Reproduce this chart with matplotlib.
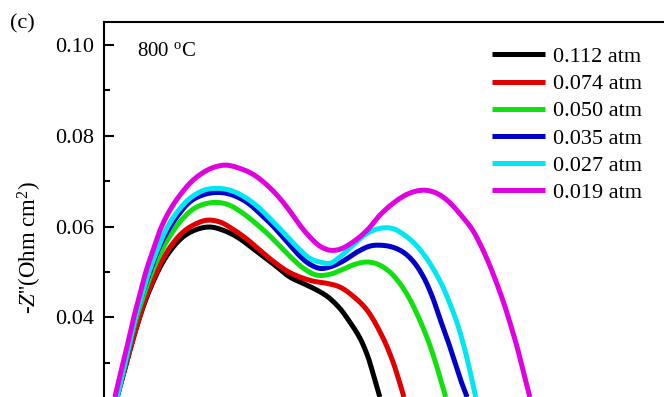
import matplotlib
matplotlib.use('Agg')
import numpy as np
import matplotlib.pyplot as plt
from matplotlib.ticker import FixedLocator, MultipleLocator, FormatStrFormatter

plt.rcParams['font.family'] = ['Liberation Serif', 'DejaVu Serif']
plt.rcParams['mathtext.fontset'] = 'custom'
plt.rcParams['mathtext.rm'] = 'Liberation Serif'
plt.rcParams['mathtext.it'] = 'Liberation Serif:italic'

labels = ['0.112 atm', '0.074 atm', '0.050 atm', '0.035 atm', '0.027 atm', '0.019 atm']
colors = ['#000000', '#e00000', '#10e010', '#0000c8', '#00e6f2', '#e000e0']
y_major_ticks = [0.04, 0.06, 0.08, 0.10]

# Z' (Ohm cm^2) and -Z'' (Ohm cm^2)
zr_0112 = [0.1029, 0.1042, 0.1057, 0.1073, 0.1090, 0.1108, 0.1128, 0.1150, 0.1176, 0.1205,
           0.1233, 0.1262, 0.1293, 0.1321, 0.1350, 0.1381, 0.1409, 0.1438, 0.1469, 0.1493,
           0.1519, 0.1541, 0.1563, 0.1581, 0.1594, 0.1607]
zi_0112 = [0.0225, 0.0273, 0.0328, 0.0383, 0.0434, 0.0478, 0.0519, 0.0552, 0.0579, 0.0594,
           0.0599, 0.0592, 0.0577, 0.0557, 0.0535, 0.0511, 0.0489, 0.0475, 0.0460, 0.0445,
           0.0420, 0.0390, 0.0355, 0.0313, 0.0269, 0.0225]

zr_0074 = [0.1029, 0.1042, 0.1057, 0.1073, 0.1090, 0.1108, 0.1128, 0.1150, 0.1174, 0.1200,
           0.1227, 0.1255, 0.1284, 0.1315, 0.1343, 0.1372, 0.1403, 0.1431, 0.1460, 0.1491,
           0.1519, 0.1548, 0.1579, 0.1614, 0.1636, 0.1649, 0.1660]
zi_0074 = [0.0225, 0.0273, 0.0328, 0.0383, 0.0438, 0.0482, 0.0526, 0.0561, 0.0588, 0.0605,
           0.0614, 0.0610, 0.0594, 0.0572, 0.0548, 0.0524, 0.0502, 0.0489, 0.0480, 0.0475,
           0.0467, 0.0447, 0.0416, 0.0355, 0.0302, 0.0262, 0.0225]

zr_0050 = [0.1029, 0.1042, 0.1055, 0.1070, 0.1086, 0.1103, 0.1123, 0.1145, 0.1172, 0.1202,
           0.1240, 0.1271, 0.1299, 0.1328, 0.1359, 0.1387, 0.1416, 0.1442, 0.1469, 0.1497,
           0.1526, 0.1552, 0.1579, 0.1603, 0.1629, 0.1651, 0.1673, 0.1695, 0.1713, 0.1728,
           0.1741, 0.1752]
zi_0050 = [0.0225, 0.0280, 0.0335, 0.0394, 0.0445, 0.0493, 0.0539, 0.0579, 0.0616, 0.0642,
           0.0653, 0.0649, 0.0634, 0.0612, 0.0585, 0.0557, 0.0528, 0.0506, 0.0493, 0.0495,
           0.0506, 0.0517, 0.0522, 0.0517, 0.0500, 0.0475, 0.0440, 0.0394, 0.0350, 0.0306,
           0.0262, 0.0225]

zr_0035 = [0.1029, 0.1042, 0.1055, 0.1068, 0.1084, 0.1101, 0.1119, 0.1139, 0.1163, 0.1191,
           0.1222, 0.1255, 0.1284, 0.1315, 0.1343, 0.1372, 0.1403, 0.1431, 0.1453, 0.1475,
           0.1497, 0.1526, 0.1557, 0.1585, 0.1607, 0.1634, 0.1658, 0.1680, 0.1702, 0.1722,
           0.1739, 0.1757, 0.1772, 0.1785, 0.1799]
zi_0035 = [0.0225, 0.0280, 0.0337, 0.0394, 0.0451, 0.0500, 0.0548, 0.0588, 0.0625, 0.0656,
           0.0671, 0.0675, 0.0669, 0.0653, 0.0629, 0.0601, 0.0566, 0.0535, 0.0517, 0.0508,
           0.0511, 0.0524, 0.0544, 0.0557, 0.0559, 0.0555, 0.0544, 0.0524, 0.0491, 0.0447,
           0.0398, 0.0348, 0.0302, 0.0262, 0.0225]

zr_0027 = [0.1029, 0.1042, 0.1055, 0.1068, 0.1084, 0.1099, 0.1117, 0.1136, 0.1161, 0.1189,
           0.1220, 0.1249, 0.1277, 0.1306, 0.1337, 0.1365, 0.1394, 0.1425, 0.1453, 0.1475,
           0.1497, 0.1519, 0.1548, 0.1579, 0.1607, 0.1634, 0.1656, 0.1680, 0.1702, 0.1724,
           0.1744, 0.1761, 0.1777, 0.1792, 0.1805, 0.1818]
zi_0027 = [0.0225, 0.0280, 0.0337, 0.0394, 0.0451, 0.0500, 0.0548, 0.0592, 0.0632, 0.0662,
           0.0680, 0.0684, 0.0680, 0.0667, 0.0645, 0.0618, 0.0588, 0.0555, 0.0530, 0.0522,
           0.0519, 0.0533, 0.0559, 0.0585, 0.0596, 0.0596, 0.0585, 0.0566, 0.0541, 0.0508,
           0.0471, 0.0431, 0.0388, 0.0337, 0.0284, 0.0225]

zr_0019 = [0.1024, 0.1037, 0.1051, 0.1064, 0.1079, 0.1092, 0.1108, 0.1125, 0.1145, 0.1167,
           0.1196, 0.1227, 0.1251, 0.1271, 0.1299, 0.1328, 0.1359, 0.1387, 0.1409, 0.1431,
           0.1453, 0.1475, 0.1497, 0.1519, 0.1548, 0.1579, 0.1607, 0.1636, 0.1667, 0.1700,
           0.1728, 0.1755, 0.1790, 0.1810, 0.1827, 0.1847, 0.1865, 0.1880, 0.1895, 0.1909,
           0.1922, 0.1937]
zi_0019 = [0.0225, 0.0280, 0.0337, 0.0394, 0.0451, 0.0500, 0.0548, 0.0596, 0.0636, 0.0669,
           0.0702, 0.0724, 0.0733, 0.0735, 0.0728, 0.0715, 0.0691, 0.0662, 0.0634, 0.0603,
           0.0577, 0.0557, 0.0548, 0.0550, 0.0566, 0.0592, 0.0625, 0.0651, 0.0671, 0.0680,
           0.0675, 0.0658, 0.0620, 0.0594, 0.0563, 0.0519, 0.0473, 0.0431, 0.0383, 0.0335,
           0.0284, 0.0225]

series_zr = [zr_0112, zr_0074, zr_0050, zr_0035, zr_0027, zr_0019]
series_zi = [zi_0112, zi_0074, zi_0050, zi_0035, zi_0027, zi_0019]


def smooth_path(xs, ys, n=16):
    """Centripetal Catmull-Rom curve drawn through every read point."""
    P = np.column_stack([xs, ys]).astype(float)
    P = np.vstack([2 * P[0] - P[1], P, 2 * P[-1] - P[-2]])
    out = []
    for i in range(1, len(P) - 2):
        p0, p1, p2, p3 = P[i - 1], P[i], P[i + 1], P[i + 2]
        t0 = 0.0
        t1 = t0 + np.linalg.norm(p1 - p0) ** 0.5
        t2 = t1 + np.linalg.norm(p2 - p1) ** 0.5
        t3 = t2 + np.linalg.norm(p3 - p2) ** 0.5
        t = np.linspace(t1, t2, n, endpoint=False)[:, None]
        a1 = (t1 - t) / (t1 - t0) * p0 + (t - t0) / (t1 - t0) * p1
        a2 = (t2 - t) / (t2 - t1) * p1 + (t - t1) / (t2 - t1) * p2
        a3 = (t3 - t) / (t3 - t2) * p2 + (t - t2) / (t3 - t2) * p3
        b1 = (t2 - t) / (t2 - t0) * a1 + (t - t0) / (t2 - t0) * a2
        b2 = (t3 - t) / (t3 - t1) * a2 + (t - t1) / (t3 - t1) * a3
        out.append((t2 - t) / (t2 - t1) * b1 + (t - t1) / (t2 - t1) * b2)
    out.append(P[-2][None, :])
    C = np.vstack(out)
    return C[:, 0], C[:, 1]


fig = plt.figure(figsize=(6.64, 3.97), dpi=100)
ax = fig.add_axes([0.1566, -0.2577, 0.90, 1.2023])

for zr, zi, c, lab in zip(series_zr, series_zi, colors, labels):
    sx, sy = smooth_path(zr, zi)
    ax.plot(sx, sy, color=c, lw=3.6, label=lab, solid_capstyle='butt',
            solid_joinstyle='round')

ax.set_xlim(0.10, 0.2315)
ax.set_ylim(0.0, 0.105)
ax.yaxis.set_major_locator(FixedLocator(y_major_ticks))
ax.yaxis.set_minor_locator(MultipleLocator(0.01))
ax.yaxis.set_major_formatter(FormatStrFormatter('%.2f'))
ax.tick_params(axis='y', which='major', direction='in', length=7, width=1.5,
               labelsize=16, pad=7)
ax.tick_params(axis='y', which='minor', direction='in', length=4.5, width=1.5)
ax.tick_params(axis='x', which='both', bottom=False, labelbottom=False)
for s in ax.spines.values():
    s.set_linewidth(1.5)

ax.set_ylabel(r"-$Z$''(Ohm cm$^2$)", fontsize=16.5)
ax.yaxis.set_label_coords(-0.101, 0.527)

fig.text(137 / 664, 1 - 52 / 397, r'800 $^{\mathrm{o}}$C', fontsize=15,
         ha='left', va='center')
fig.text(10 / 664, 1 - 24 / 397, '(c)', fontsize=16, ha='left', va='center')

leg = ax.legend(loc='upper left', bbox_to_anchor=(492 / 664, 1 - 46.5 / 397),
                bbox_transform=fig.transFigure, frameon=False, fontsize=16,
                handlelength=2.39, handletextpad=0.36, labelspacing=0.30,
                borderpad=0, borderaxespad=0)
for h in leg.get_lines():
    h.set_linewidth(3.6)

fig.savefig('out.png', dpi=100)
